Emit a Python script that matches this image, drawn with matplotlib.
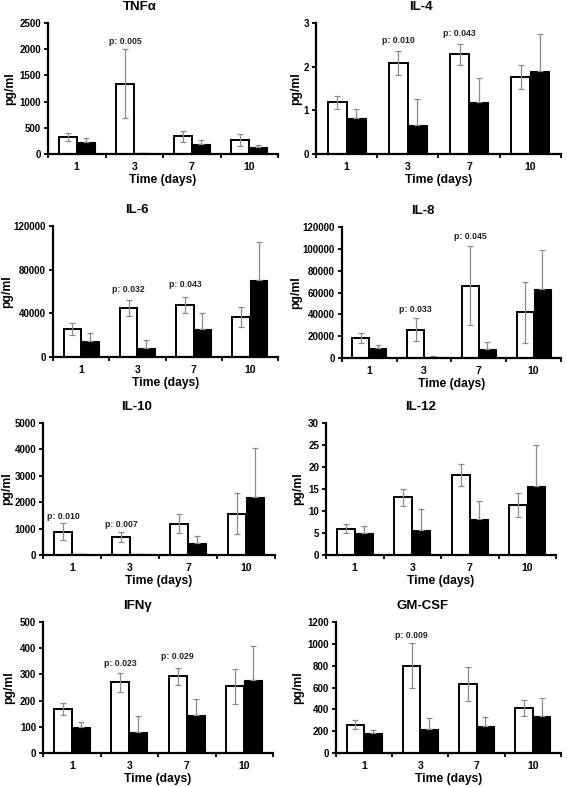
import numpy as np
import matplotlib
matplotlib.use('Agg')
import matplotlib.pyplot as plt
from matplotlib.ticker import FixedLocator, NullFormatter

plt.rcParams['font.family'] = ['Liberation Sans', 'DejaVu Sans']
plt.rcParams['font.weight'] = 'bold'

days = ['1', '3', '7', '10']

# mean / sd for each cytokine, white = group A, black = group B
tnf_w = [326, 1345, 339, 275]
tnf_w_sd = [82, 655, 103, 113]
tnf_b = [224, 18, 198, 128]
tnf_b_sd = [89, 0, 64, 51]

il4_w = [1.18, 2.08, 2.28, 1.77]
il4_w_sd = [0.15, 0.27, 0.25, 0.27]
il4_b = [0.83, 0.66, 1.18, 1.89]
il4_b_sd = [0.21, 0.60, 0.55, 0.86]

il6_w = [25950, 44900, 47300, 36600]
il6_w_sd = [5500, 7300, 7300, 8900]
il6_b = [14700, 7900, 26000, 70500]
il6_b_sd = [7600, 7900, 14600, 34800]

il8_w = [18700, 26100, 66300, 41700]
il8_w_sd = [4600, 10700, 36000, 28200]
il8_b = [9200, 1200, 8600, 63500]
il8_b_sd = [3100, 500, 6100, 35000]

il10_w = [888, 685, 1193, 1561]
il10_w_sd = [310, 190, 370, 780]
il10_b = [51, 25, 470, 2183]
il10_b_sd = [0, 0, 240, 1865]

il12_w = [6.0, 13.1, 18.1, 11.4]
il12_w_sd = [0.95, 2.0, 2.5, 2.7]
il12_b = [4.9, 5.6, 8.1, 15.6]
il12_b_sd = [1.7, 4.8, 4.2, 9.5]

ifn_w = [168, 270, 293, 254]
ifn_w_sd = [23, 37, 32, 66]
ifn_b = [98, 79, 145, 280]
ifn_b_sd = [20, 63, 62, 127]

gm_w = [260, 800, 632, 412]
gm_w_sd = [43, 208, 156, 70]
gm_b = [180, 223, 250, 342]
gm_b_sd = [31, 98, 83, 159]

# p-value labels: (day index, y position, text)
tnf_p = [(1, 2150, 'p: 0.005')]
il4_p = [(1, 2.59, 'p: 0.010'), (2, 2.76, 'p: 0.043')]
il6_p = [(1, 61700, 'p: 0.032'), (2, 66300, 'p: 0.043')]
il8_p = [(1, 44500, 'p: 0.033'), (2, 111400, 'p: 0.045')]
il10_p = [(0, 1450, 'p: 0.010'), (1, 1140, 'p: 0.007')]
il12_p = []
ifn_p = [(1, 341, 'p: 0.023'), (2, 369, 'p: 0.029')]
gm_p = [(1, 1078, 'p: 0.009')]

W, H = 567, 787
fig = plt.figure(figsize=(W / 100, H / 100), dpi=100)

# (title, data..., ymax, ystep, box in px: left, right, top, bottom, title x, ylabel x)
panels = [
    ('TNFα', tnf_w, tnf_w_sd, tnf_b, tnf_b_sd, tnf_p, 2500, 500, (48, 278, 23, 154), 140, 10),
    ('IL-4', il4_w, il4_w_sd, il4_b, il4_b_sd, il4_p, 3, 1, (316, 561, 23, 154), 421, 296),
    ('IL-6', il6_w, il6_w_sd, il6_b, il6_b_sd, il6_p, 120000, 40000, (53, 278, 226, 357), 137, 7),
    ('IL-8', il8_w, il8_w_sd, il8_b, il8_b_sd, il8_p, 120000, 20000, (342, 561, 227, 358), 423, 296),
    ('IL-10', il10_w, il10_w_sd, il10_b, il10_b_sd, il10_p, 5000, 1000, (43, 275, 423, 555), 137, 7),
    ('IL-12', il12_w, il12_w_sd, il12_b, il12_b_sd, il12_p, 30, 5, (326, 556, 423, 555), 421, 298),
    ('IFNγ', ifn_w, ifn_w_sd, ifn_b, ifn_b_sd, ifn_p, 500, 100, (43, 273, 622, 753), 137, 9),
    ('GM-CSF', gm_w, gm_w_sd, gm_b, gm_b_sd, gm_p, 1200, 200, (336, 561, 622, 753), 423, 298),
]

x = np.arange(len(days))
bw = 0.31

for (title, w, wsd, b, bsd, pv, ymax, ystep, box, tx, lx) in panels:
    l, r, t, bt = box
    ax = fig.add_axes([l / W, 1 - bt / H, (r - l) / W, (bt - t) / H])
    ek = dict(ecolor='#8c8c8c', elinewidth=0.9, capsize=2, capthick=0.9)
    ax.bar(x - bw / 2, w, bw, color='white', edgecolor='black', linewidth=1.4,
           yerr=wsd, error_kw=ek, zorder=2)
    ax.bar(x + bw / 2, b, bw, color='black', edgecolor='black', linewidth=0.8,
           yerr=[np.zeros(len(bsd)), bsd], error_kw=ek, zorder=2)
    for i, yv, txt in pv:
        ax.text(i - bw / 2, yv, txt, ha='center', va='center', fontsize=6.3,
                fontweight='bold', color='#222222')
    ax.set_xlim(-0.5, 3.5)
    ax.set_ylim(0, ymax)
    ax.set_yticks(np.arange(0, ymax + ystep / 2, ystep))
    ax.xaxis.set_major_locator(FixedLocator([-0.5, 0.5, 1.5, 2.5, 3.5]))
    ax.xaxis.set_major_formatter(NullFormatter())
    ax.xaxis.set_minor_locator(FixedLocator(x))
    ax.set_xticklabels(days, minor=True)
    ax.tick_params(axis='x', which='major', length=3, width=1.3, direction='out')
    ax.tick_params(axis='x', which='minor', length=0, pad=6, labelsize=7.5)
    ax.tick_params(axis='y', length=3, width=1.3, direction='out', labelsize=7, pad=2)
    for lab in ax.get_xticklabels(minor=True) + ax.get_yticklabels():
        lab.set_fontweight('bold')
    ax.spines['top'].set_visible(False)
    ax.spines['right'].set_visible(False)
    ax.spines['left'].set_linewidth(1.6)
    ax.spines['bottom'].set_linewidth(1.6)
    ax.set_xlabel('Time (days)', fontsize=8.7, fontweight='bold', labelpad=1)
    fig.text(tx / W, 1 - (t - 16) / H, title, ha='center', va='center',
             fontsize=9.5, fontweight='bold')
    fig.text(lx / W, 1 - ((t + bt) / 2) / H, 'pg/ml', ha='center', va='center',
             rotation=90, fontsize=8.7, fontweight='bold')

fig.savefig('out.png', dpi=100)
